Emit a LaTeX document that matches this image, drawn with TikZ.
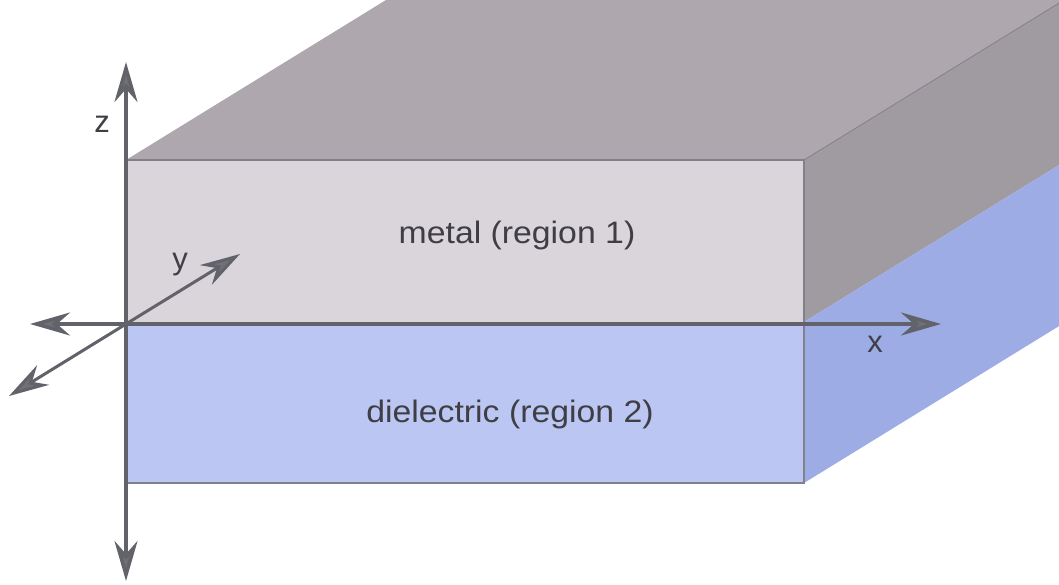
\documentclass[tikz,border=0pt]{standalone}
\usepackage{fontspec}
\setmainfont{Liberation Sans}
\usetikzlibrary{arrows.meta}
\definecolor{topface}{RGB}{174,168,174}
\definecolor{frontmetal}{RGB}{217,213,218}
\definecolor{sidemetal}{RGB}{160,155,161}
\definecolor{frontdiel}{RGB}{187,198,242}
\definecolor{sidediel}{RGB}{158,172,230}
\definecolor{axiscol}{RGB}{98,98,106}
\definecolor{headcol}{RGB}{112,112,118}
\definecolor{edgecol}{RGB}{130,128,138}
\definecolor{txtcol}{RGB}{62,62,68}
\tikzset{
  axis/.style={draw=axiscol, line width=3.6pt, -{Stealth[length=40pt,width=23pt,inset=13pt,fill=headcol]}},
  edge/.style={draw=edgecol, line width=1.4pt},
  lbl/.style={text=txtcol, font=\fontsize{31}{37}\selectfont, inner sep=0pt},
}
\begin{document}
\begin{tikzpicture}[x=1pt,y=-1pt]
\useasboundingbox (0,0) rectangle (1059,585);
\begin{scope}
\clip (0,0) rectangle (1059,585);
% box corners
\coordinate (FTL) at (126,160);
\coordinate (FTR) at (804,160);
\coordinate (FML) at (126,324);
\coordinate (FMR) at (804,324);
\coordinate (FBL) at (126,483);
\coordinate (FBR) at (804,483);
\coordinate (BTL) at (386,0);
\coordinate (BTR) at (1064,0);
\coordinate (BMR) at (1064,162);
\coordinate (BBR) at (1064,323);
% faces
\fill[topface] (FTL) -- (BTL) -- (BTR) -- (FTR) -- cycle;
\fill[sidemetal] (FTR) -- (BTR) -- (BMR) -- (804,322) -- cycle;
\fill[sidediel] (804,322) -- (BMR) -- (BBR) -- (FBR) -- cycle;
\fill[frontmetal] (FTL) rectangle (FMR);
\fill[frontdiel] (FML) rectangle (FBR);
% edges
\draw[edge] (FTL) -- (FTR) -- (FBR) -- (FBL);
\draw[edge, line width=0.8pt] (FTR) -- (BTR);
\end{scope}
% labels
\node[lbl] (metal) at (517,235) {\scalebox{1.09}[1]{metal (region 1)}};
\node[lbl] (diel) at (510,414) {\scalebox{1.09}[1]{dielectric (region 2)}};
% axes
\coordinate (O) at (126,324);
\coordinate (zp) at (126,62);
\coordinate (zm) at (126,581);
\coordinate (xp) at (941,324);
\coordinate (xm) at (30,324);
\coordinate (yp) at (240,254);
\coordinate (ym) at (9,396);
\draw[axis] (O) -- (zp);
\draw[axis] (O) -- (zm);
\draw[axis] (O) -- (xp);
\draw[axis] (O) -- (xm);
\draw[axis, line width=3pt] (O) -- (yp);
\draw[axis, line width=3pt] (O) -- (ym);
\node[lbl] (zl) at (102,124) {z};
\node[lbl] (yl) at (180,265) {y};
\node[lbl] (xl) at (875,344) {x};
\end{tikzpicture}
\end{document}
